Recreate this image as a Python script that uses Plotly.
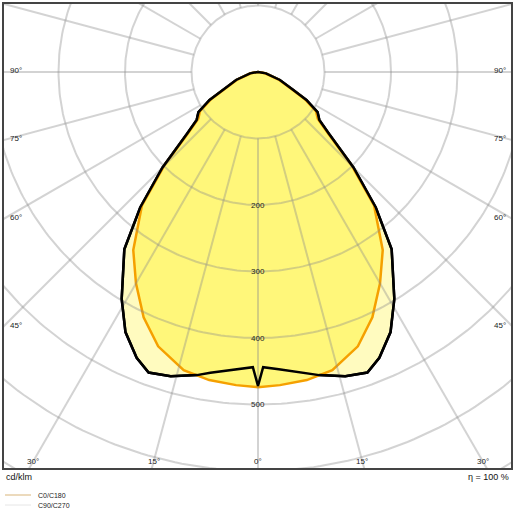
import numpy as np
import plotly.graph_objects as go

# Luminous intensity (cd/klm) vs gamma angle (deg from nadir), half curve, mirrored
c90_angles = [0, 1, 4, 9, 11.4, 16, 20, 23, 27, 31, 37, 41, 45, 49, 52, 56, 60, 63, 70, 80, 90, 180]
c90_values = [472, 444, 448, 458, 465, 476, 481, 467, 439, 398, 334, 270, 203, 141, 117, 108, 84, 59, 35, 12, 0, 0]
c0_angles = [0, 4, 9, 14, 20, 25, 30, 35, 41, 45, 49, 52, 56, 60, 63, 70, 80, 90, 180]
c0_values = [474, 472, 469, 462, 439, 407, 367, 327, 266, 200, 138, 114, 105, 81, 57, 33, 11, 0, 0]
ring_values = [100, 200, 300, 400, 500, 600, 700]
ring_labels = ["200", "300", "400", "500"]
spoke_angles = list(range(0, 360, 15))
side_labels = ["90°", "75°", "60°", "45°"]
bottom_labels = ["30°", "15°", "0°", "15°", "30°"]

S = 0.665  # px per cd/klm
CX, CY = 258, 72
L, T, R, B = 3, 3, 512, 469

def full(angles, values):
    a = np.array(angles, float); v = np.array(values, float)
    a_full = np.concatenate([-a[::-1], a[1:]])
    v_full = np.concatenate([v[::-1], v[1:]])
    t = np.radians(a_full)
    return v_full * np.sin(t), -v_full * np.cos(t)

fig = go.Figure()
bx, by = full(c90_angles, c90_values)
ox, oy = full(c0_angles, c0_values)
fig.add_trace(go.Scatter(x=bx, y=by, fill="toself", fillcolor="#fffbbf", line=dict(color="black", width=2.5), mode="lines", hoverinfo="skip"))
fig.add_trace(go.Scatter(x=ox, y=oy, fill="toself", fillcolor="#fff77a", line=dict(color="#f5a000", width=2.5), mode="lines", hoverinfo="skip"))

gcol = "rgba(140,140,140,0.38)"
th = np.linspace(0, 2 * np.pi, 361)
for r in ring_values:
    fig.add_trace(go.Scatter(x=r * np.cos(th), y=r * np.sin(th), mode="lines", line=dict(color=gcol, width=2), hoverinfo="skip"))
for a in spoke_angles:
    t = np.radians(a)
    fig.add_trace(go.Scatter(x=[100 * np.sin(t), 1000 * np.sin(t)], y=[-100 * np.cos(t), -1000 * np.cos(t)], mode="lines", line=dict(color=gcol, width=2), hoverinfo="skip"))
fig.add_trace(go.Scatter(x=bx, y=by, line=dict(color="black", width=2.5), mode="lines", hoverinfo="skip"))

x0 = (L - CX) / S; x1 = (R - CX) / S
y0 = (CY - B) / S; y1 = (CY - T) / S
ann = []
f = dict(family="Liberation Sans, Arial", size=8, color="#222")
for lab in ring_labels:
    r = float(lab)
    ann.append(dict(x=0, y=-r, text=lab, showarrow=False, font=f, xanchor="center", yanchor="middle"))
for lab in side_labels:
    g = float(lab[:-1])
    dx = (CX - L) / S
    yv = -dx / np.tan(np.radians(g)) if g < 90 else 0
    yv = yv + 2 / S
    for sgn, xa in ((-1, "left"), (1, "right")):
        ann.append(dict(x=sgn * (dx - 5 / S), y=yv, text=lab, showarrow=False, font=f, xanchor=xa, yanchor="middle"))
for i, lab in enumerate(bottom_labels):
    g = float(lab[:-1]) * (1 if i >= 2 else -1)
    yb = (CY - 461) / S
    ann.append(dict(x=-yb * np.tan(np.radians(g)), y=yb, text=lab, showarrow=False, font=f, xanchor="center", yanchor="middle"))

def px(xp): return (xp - L) / (R - L)
def py(yp): return (B - yp) / (B - T)
f2 = dict(family="Liberation Sans, Arial", size=9, color="#111")
ann.append(dict(xref="paper", yref="paper", x=px(4), y=py(477), text="cd/klm", showarrow=False, font=f2, xanchor="left", yanchor="middle"))
ann.append(dict(xref="paper", yref="paper", x=px(511), y=py(477), text="η = 100 %", showarrow=False, font=f2, xanchor="right", yanchor="middle"))
f3 = dict(family="Liberation Sans, Arial", size=7, color="#222")
ann.append(dict(xref="paper", yref="paper", x=px(36), y=py(495), text="C0/C180", showarrow=False, font=f3, xanchor="left", yanchor="middle"))
ann.append(dict(xref="paper", yref="paper", x=px(36), y=py(505), text="C90/C270", showarrow=False, font=f3, xanchor="left", yanchor="middle"))

shapes = [
    dict(type="rect", xref="paper", yref="paper", x0=0, x1=1, y0=0, y1=1, line=dict(color="#444", width=2)),
    dict(type="line", xref="paper", yref="paper", x0=px(5), x1=px(31), y0=py(495), y1=py(495), line=dict(color="#d9b57a", width=1)),
    dict(type="line", xref="paper", yref="paper", x0=px(5), x1=px(31), y0=py(505), y1=py(505), line=dict(color="#e6e6e6", width=1)),
]
fig.update_layout(width=515, height=515, margin=dict(l=L, r=515 - R, t=T, b=515 - B),
                  paper_bgcolor="white", plot_bgcolor="white", showlegend=False,
                  xaxis=dict(range=[x0, x1], visible=False, fixedrange=True),
                  yaxis=dict(range=[y0, y1], visible=False, fixedrange=True),
                  annotations=ann, shapes=shapes)
fig.write_html("out.html", config={"displayModeBar": False})
with open("out.html", encoding="utf-8") as fh:
    html = fh.read()
html = html.replace("<body>", '<body style="margin:0;overflow:hidden">', 1)
with open("out.html", "w", encoding="utf-8") as fh:
    fh.write(html)
